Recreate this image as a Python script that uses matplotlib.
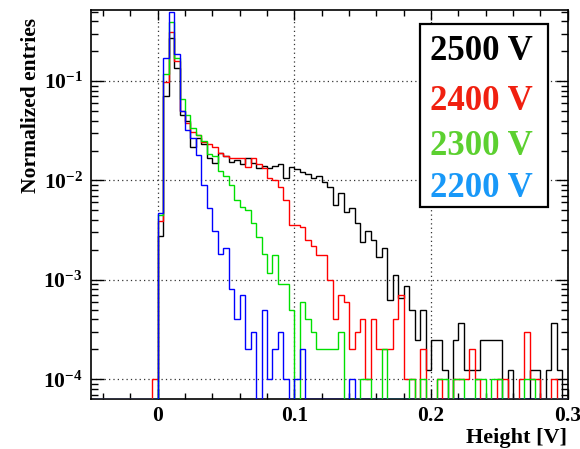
import numpy as np
import matplotlib.pyplot as plt
from matplotlib.patches import Rectangle
from matplotlib.ticker import MultipleLocator, LogLocator, NullFormatter, FixedLocator, FixedFormatter

plt.rcParams['font.family'] = 'Liberation Serif'
plt.rcParams['font.weight'] = 'bold'
plt.rcParams['mathtext.fontset'] = 'custom'
plt.rcParams['mathtext.rm'] = 'Liberation Serif:bold'
plt.rcParams['mathtext.bf'] = 'Liberation Serif:bold'
plt.rcParams['mathtext.default'] = 'bf'

# histogram binning (V)
bin_w = 0.004
x_lo, x_hi = -0.048, 0.3
first_filled = -0.004   # values below start at this edge, earlier bins are empty

# normalized entries per bin, from -0.004 V up to 0.3 V
h2500 = [0, 2.75e-3, 0.070, 0.27, 0.136, 0.046, 0.040, 0.0215, 0.027, 0.023,
         0.017, 0.015, 0.019, 0.0175, 0.0155, 0.016, 0.0146, 0.017, 0.015, 0.0132,
         0.0139, 0.0132, 0.0139, 0.0148, 0.0107, 0.0135, 0.013, 0.0121, 0.0116, 0.0106,
         0.011, 0.0097, 0.0085, 0.0057, 0.0074, 0.0048, 0.0053, 0.0037, 0.0024, 0.0031,
         0.0025, 0.0017, 0.0021, 6.3e-4, 1.11e-3, 6.6e-4, 8.6e-4, 5.0e-4, 2.5e-4, 5.0e-4,
         1.24e-4, 2.5e-4, 2.5e-4, 1.24e-4, 0, 2.5e-4, 3.7e-4, 1.24e-4, 1.24e-4, 1.24e-4,
         2.5e-4, 2.5e-4, 2.5e-4, 2.5e-4, 0, 1.24e-4, 0, 0, 0, 1.24e-4,
         1.24e-4, 0, 1.24e-4, 3.7e-4, 1.24e-4, 0]
h2400 = [1e-4, 3.9e-3, 0.098, 0.31, 0.16, 0.050, 0.038, 0.031, 0.0286, 0.0245,
         0.0232, 0.0218, 0.0187, 0.0176, 0.0167, 0.0167, 0.0167, 0.0137, 0.017, 0.0148,
         0.0132, 0.0107, 0.0101, 0.0085, 0.0064, 0.0036, 0.0036, 0.0034, 0.0025, 0.0022,
         0.00177, 0.00177, 0.001, 4e-4, 7e-4, 6e-4, 2e-4, 3e-4, 4e-4, 1e-4,
         4e-4, 2e-4, 2e-4, 2e-4, 4e-4, 7e-4, 1e-4, 1e-4, 0, 2e-4,
         0, 0, 1e-4, 0, 0, 1e-4, 1e-4, 1e-4, 2e-4, 1e-4,
         0, 0, 0, 1e-4, 1e-4, 0, 0, 1e-4, 3e-4, 1e-4,
         1e-4, 0, 0, 1e-4, 0, 0]
h2300 = [0, 4.5e-3, 0.118, 0.39, 0.17, 0.066, 0.0455, 0.034, 0.0286, 0.025,
         0.0185, 0.0175, 0.0125, 0.0112, 0.0091, 0.0064, 0.0054, 0.0050, 0.0037, 0.0027,
         0.00184, 0.00118, 0.00178, 9e-4, 9e-4, 5e-4, 0, 6e-4, 4e-4, 3e-4,
         2e-4, 2e-4, 2e-4, 2e-4, 3e-4, 0, 0, 0, 1e-4, 1e-4,
         0, 0, 2e-4, 0, 0, 0, 0, 1e-4, 0, 1e-4,
         0, 0, 1e-4, 1e-4, 0, 1e-4, 1e-4, 0, 0, 1e-4,
         1e-4, 0, 1e-4, 1e-4, 0, 0, 0, 0, 1e-4, 1e-4,
         0, 0, 0, 0, 0, 0]
h2200 = [0, 4.7e-3, 0.17, 0.49, 0.186, 0.050, 0.032, 0.027, 0.018, 0.009,
         0.0053, 0.0031, 0.0018, 0.0021, 8e-4, 4e-4, 7e-4, 2e-4, 3e-4, 0,
         5e-4, 1e-4, 2e-4, 3e-4, 1e-4, 0, 1e-4, 2e-4, 0, 0,
         0, 0, 0, 0, 0, 0, 1e-4, 0, 0, 0,
         0, 0, 0, 0, 0, 0, 0, 0, 0, 0,
         0, 0, 0, 0, 0, 0, 0, 0, 0, 0,
         0, 0, 0, 0, 0, 0, 0, 0, 0, 0,
         0, 0, 0, 0, 0, 0]

labels = ['2500 V', '2400 V', '2300 V', '2200 V']
line_colors = ['black', '#ff0000', '#00e000', '#0000ff']
text_colors = ['black', '#f02010', '#5cd030', '#1898f8']

y_lo, y_hi = 6.3e-5, 0.52

n_bins = int(round((x_hi - x_lo) / bin_w))
edges = x_lo + bin_w * np.arange(n_bins + 1)
n_empty = int(round((first_filled - x_lo) / bin_w))

fig = plt.figure(figsize=(5.8, 4.49), dpi=100)
ax = fig.add_axes([0.157, 0.111, 0.822, 0.867])

for h, c in zip([h2500, h2400, h2300, h2200], line_colors):
    v = np.concatenate([np.zeros(n_empty), np.array(h, dtype=float)])
    # empty bins are drawn on the frame bottom, like ROOT does on a log axis
    v = np.where(v > 0, v, y_lo)
    ax.stairs(v, edges, baseline=None, color=c, lw=1.0, zorder=3)

ax.set_yscale('log')
ax.set_xlim(-0.0487, 0.3)
ax.set_ylim(y_lo, y_hi)

ax.xaxis.set_major_locator(MultipleLocator(0.1))
ax.xaxis.set_minor_locator(MultipleLocator(0.02))
ax.set_xticks([0, 0.1, 0.2, 0.3])
ax.set_xticklabels(['0', '0.1', '0.2', '0.3'])
ax.yaxis.set_major_locator(FixedLocator([1e-4, 1e-3, 1e-2, 1e-1]))
ax.yaxis.set_major_formatter(FixedFormatter([r'$10^{-4}$', r'$10^{-3}$', r'$10^{-2}$', r'$10^{-1}$']))
ax.yaxis.set_minor_locator(LogLocator(base=10, subs=np.arange(2, 10), numticks=20))
ax.yaxis.set_minor_formatter(NullFormatter())

ax.tick_params(which='both', direction='in', top=True, right=True, width=1.0, labelsize=15.5)
ax.tick_params(axis='y', which='major', length=9, pad=6)
ax.tick_params(axis='y', which='minor', length=5)
ax.tick_params(axis='x', which='major', length=7, pad=5)
ax.tick_params(axis='x', which='minor', length=4)

ax.grid(True, which='major', ls=(0, (1, 2.5)), color='#333333', lw=0.9, zorder=1)
for s in ax.spines.values():
    s.set_linewidth(1.2)

fig.text(0.053, 1 - 18 / 449, 'Normalized entries', rotation=90, ha='center', va='top',
         fontsize=15.5, fontweight='bold')
fig.text(0.978, 0.014, 'Height [V]', ha='right', va='baseline', fontsize=16, fontweight='bold')

# legend box with coloured labels
ax.add_patch(Rectangle((420 / 580, 1 - 207 / 449), 128 / 580, 183 / 449, transform=fig.transFigure,
                       facecolor='white', edgecolor='black', lw=1.6, zorder=5, clip_on=False))
for lab, c, yb in zip(labels, text_colors, [60, 110, 155, 197]):
    fig.text(430 / 580, 1 - yb / 449, lab, color=c, ha='left', va='baseline',
             fontsize=25, fontweight='bold', zorder=6)

fig.savefig('out.png', dpi=100)
